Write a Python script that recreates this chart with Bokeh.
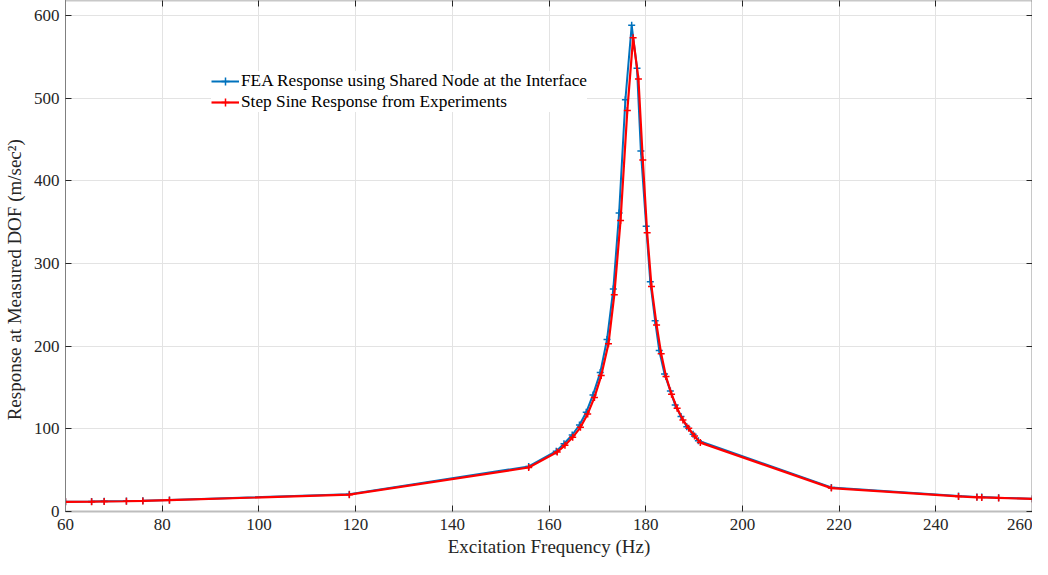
from bokeh.plotting import figure
from bokeh.models import LinearAxis, Range1d, Legend, LegendItem, FixedTicker
from bokeh.embed import file_html
from bokeh.resources import INLINE

# ---- data ----
fea_freq = [60, 65.4, 68.0, 72.6, 76.0, 81.5, 118.7, 155.8, 161.5, 163.1, 164.8, 166.3,
            167.7, 169.1, 170.6, 172.0, 173.3, 174.5, 175.8, 177.1, 178.2, 179.0, 180.1,
            180.95, 181.95, 182.8, 183.9, 185.1, 186.1, 187.3, 188.5, 189.8, 190.9,
            218.4, 244.7, 248.5, 249.5, 253.0, 260]
fea_resp = [11.9, 12.1, 12.3, 12.6, 13.0, 13.9, 20.8, 54.5, 73, 82, 92.5, 104.6,
            120, 141, 168, 208, 269, 361, 498, 588, 536, 436, 345,
            278, 230.7, 194.8, 166.4, 145.8, 128.9, 114.8, 102.6, 93.3, 85.7,
            29.0, 18.6, 17.6, 17.4, 16.7, 15.4]

exp_freq = [60, 65.4, 68.0, 72.6, 76.0, 81.5, 118.7, 155.8, 161.7, 163.3, 164.9, 166.5,
            168.0, 169.4, 170.8, 172.3, 173.5, 174.8, 176.2, 177.4, 178.5, 179.4, 180.3,
            181.2, 182.25, 183.2, 184.2, 185.35, 186.5, 187.7, 188.9, 190.1, 191.3,
            218.4, 244.7, 248.5, 249.5, 253.0, 260]
exp_resp = [11.7, 11.9, 12.1, 12.4, 12.8, 13.7, 20.4, 53.2, 72, 80, 89.7, 101.8,
            118, 138, 164.4, 202.8, 262, 352, 485, 573, 523, 425, 337,
            272, 225.5, 190.7, 163.2, 141.8, 124.8, 110.7, 100.6, 91.3, 83.3,
            28.3, 18.2, 17.2, 17.0, 16.4, 15.2]

x_ticks = [60, 80, 100, 120, 140, 160, 180, 200, 220, 240, 260]
y_ticks = [0, 100, 200, 300, 400, 500, 600]

FONT = "Liberation Serif"
TXT = "#262626"

p = figure(width=1032, height=559, output_backend="svg", toolbar_location=None,
           x_range=Range1d(60, 260), y_range=Range1d(0, 618),
           min_border_left=56, min_border_right=0, min_border_top=0, min_border_bottom=0)
p.outline_line_color = None
p.background_fill_color = "white"

blue = "#0072BD"
red = "#FF0000"
l1 = p.line(fea_freq, fea_resp, line_color=blue, line_width=2)
s1 = p.scatter(fea_freq, fea_resp, marker="cross", size=7, line_color=blue, line_width=1.5)
l2 = p.line(exp_freq, exp_resp, line_color=red, line_width=2.2)
s2 = p.scatter(exp_freq, exp_resp, marker="cross", size=7, line_color=red, line_width=1.5)

# axes
xa = p.xaxis[0]
ya = p.yaxis[0]
xa.ticker = FixedTicker(ticks=x_ticks)
ya.ticker = FixedTicker(ticks=y_ticks)
for ax in (xa, ya):
    ax.major_tick_in = 6
    ax.major_tick_out = 0
    ax.minor_tick_line_color = None
    ax.major_tick_line_color = TXT
    ax.major_label_text_font = FONT
    ax.major_label_text_font_size = "17px"
    ax.major_label_text_color = TXT
    ax.axis_label_text_font = FONT
    ax.axis_label_text_font_size = "19px"
    ax.axis_label_text_font_style = "normal"
    ax.axis_label_text_color = TXT
xa.axis_line_color = "#bdbdbd"
xa.axis_line_width = 2
ya.axis_line_color = "#808080"
xa.axis_label = "Excitation Frequency (Hz)"
ya.axis_label = "Response at Measured DOF (m/sec²)" + "\u00a0" * 10
xa.major_label_standoff = 7
ya.major_label_standoff = 6
xa.axis_label_standoff = 3
ya.axis_label_standoff = 6

# top / right frame axes (ticks only)
top = LinearAxis(ticker=FixedTicker(ticks=x_ticks), major_tick_in=6, major_tick_out=0,
                 minor_tick_line_color=None, major_label_text_font_size="1px",
                 major_label_overrides={t: "" for t in x_ticks},
                 major_tick_line_color=TXT, axis_line_color="#c8c8c8", axis_line_width=2)
right = LinearAxis(ticker=FixedTicker(ticks=y_ticks), major_tick_in=6, major_tick_out=0,
                   minor_tick_line_color=None, major_label_text_font_size="1px",
                   major_label_overrides={t: "" for t in y_ticks},
                   major_tick_line_color=TXT, axis_line_color=TXT, axis_line_width=1.5)
top.major_label_standoff = 0
right.major_label_standoff = 0
p.add_layout(top, "above")
p.add_layout(right, "right")

p.xgrid.grid_line_color = "#e3e3e3"
p.ygrid.grid_line_color = "#e3e3e3"
p.xgrid.ticker = FixedTicker(ticks=x_ticks)
p.ygrid.ticker = FixedTicker(ticks=y_ticks)

legend = Legend(items=[
    LegendItem(label="FEA Response using Shared Node at the Interface", renderers=[l1, s1]),
    LegendItem(label="Step Sine Response from Experiments", renderers=[l2, s2]),
], location=(146, 399))
legend.label_text_font = FONT
legend.label_text_font_size = "17.3px"
legend.label_text_color = "black"
legend.border_line_color = None
legend.background_fill_color = "white"
legend.background_fill_alpha = 1.0
legend.glyph_width = 28
legend.glyph_height = 20
legend.label_height = 20
legend.label_standoff = 2
legend.spacing = 1
legend.padding = 6
legend.margin = 0
p.add_layout(legend, "center")

open("out.html", "w").write(file_html(p, INLINE))
